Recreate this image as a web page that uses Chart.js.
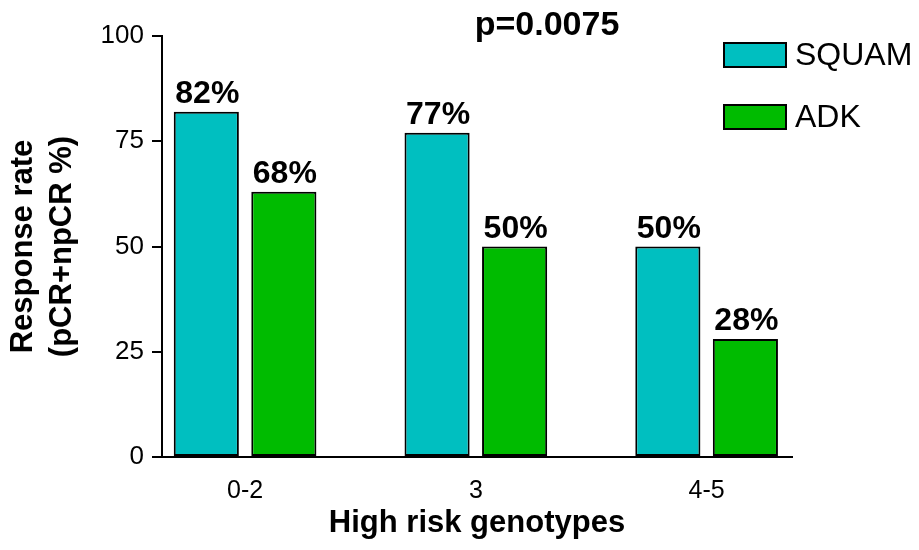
<!DOCTYPE html>
<html>
<head>
<meta charset="utf-8">
<title>Response rate by high risk genotypes</title>
<script src="https://cdn.jsdelivr.net/npm/chart.js@4.4.1/dist/chart.umd.min.js"></script>
<style>
    html, body { margin: 0; padding: 0; background: #fff; }
    #wrap { width: 919px; height: 550px; }
</style>
</head>
<body>
<div id="wrap"><canvas id="responseChart"></canvas></div>
<script>
// Values
const genotypeGroups = ['0-2', '3', '4-5'];
const squamValues = [82, 77, 50];
const adkValues = [63, 50, 28];
// printed labels (the first ADK label says 68% although the bar sits lower)
const squamLabels = ['82%', '77%', '50%'];
const adkLabels = ['68%', '50%', '28%'];
const yTicks = [0, 25, 50, 75, 100];
const pValueText = 'p=0.0075';

const FONT = "'Liberation Sans', Arial, Helvetica, sans-serif";
const SQUAM_COLOR = '#00bfc0';
const ADK_COLOR = '#00bb00';

function toPoints(values) {
    return values.map(function(v, i) { return { x: i, y: v }; });
}

// Percent labels above each bar
const barLabels = {
    id: 'barLabels',
    afterDatasetsDraw: function(chart) {
        const ctx = chart.ctx;
        ctx.save();
        ctx.font = 'bold 32px ' + FONT;
        ctx.fillStyle = '#000';
        ctx.textAlign = 'center';
        ctx.textBaseline = 'alphabetic';
        chart.data.datasets.forEach(function(ds, di) {
            const meta = chart.getDatasetMeta(di);
            meta.data.forEach(function(bar, i) {
                ctx.fillText(ds.valueLabels[i], bar.x + 1, bar.y - 9);
            });
        });
        ctx.restore();
    }
};

// p-value and the legend on the right
const annotations = {
    id: 'annotations',
    afterDraw: function(chart) {
        const ctx = chart.ctx;
        ctx.save();
        ctx.fillStyle = '#000';
        ctx.font = 'bold 34px ' + FONT;
        ctx.textAlign = 'center';
        ctx.textBaseline = 'middle';
        ctx.fillText(pValueText, 547, 26);

        ctx.font = '32px ' + FONT;
        ctx.textAlign = 'left';
        chart.data.datasets.forEach(function(ds, di) {
            const top = 43 + di * 62;
            ctx.fillStyle = ds.backgroundColor;
            ctx.fillRect(724, top, 62, 24);
            ctx.lineWidth = 2;
            ctx.strokeStyle = '#000';
            ctx.strokeRect(724, top, 62, 24);
            ctx.fillStyle = '#000';
            ctx.fillText(ds.label, 795, top + 13);
        });
        ctx.restore();
    }
};

const chart = new Chart(document.getElementById('responseChart'), {
    type: 'bar',
    data: {
        datasets: [{
            label: 'SQUAM',
            data: toPoints(squamValues),
            valueLabels: squamLabels,
            backgroundColor: SQUAM_COLOR,
            borderColor: '#000',
            borderWidth: 2,
            borderSkipped: false
        }, {
            label: 'ADK',
            data: toPoints(adkValues),
            valueLabels: adkLabels,
            backgroundColor: ADK_COLOR,
            borderColor: '#000',
            borderWidth: 2,
            borderSkipped: false
        }]
    },
    options: {
        responsive: true,
        maintainAspectRatio: false,
        animation: false,
        categoryPercentage: 0.672,
        barPercentage: 0.84,
        layout: {
            padding: { top: 36, right: 127, left: 0, bottom: 0 }
        },
        plugins: {
            legend: { display: false },
            tooltip: { enabled: false }
        },
        scales: {
            x: {
                type: 'linear',
                offset: false,
                min: -0.36,
                max: 2.37,
                afterBuildTicks: function(scale) {
                    scale.ticks = genotypeGroups.map(function(g, i) { return { value: i }; });
                },
                afterFit: function(scale) { scale.height = 93; },
                grid: { display: false },
                border: { display: true, color: '#000', width: 2 },
                ticks: {
                    color: '#000',
                    padding: 11,
                    font: { family: FONT, size: 25 },
                    callback: function(value) { return genotypeGroups[value]; }
                },
                title: {
                    display: true,
                    text: 'High risk genotypes',
                    color: '#000',
                    font: { family: FONT, size: 31, weight: 'bold', lineHeight: 1.2 },
                    padding: { top: 0, bottom: 8 }
                }
            },
            y: {
                min: 0,
                max: 100,
                afterBuildTicks: function(scale) {
                    scale.ticks = yTicks.map(function(v) { return { value: v }; });
                },
                afterFit: function(scale) { scale.width = 162; },
                grid: {
                    drawOnChartArea: false,
                    drawTicks: true,
                    tickLength: 10,
                    color: '#000',
                    lineWidth: 2
                },
                border: { display: true, color: '#000', width: 2 },
                ticks: {
                    color: '#000',
                    padding: 8,
                    font: { family: FONT, size: 26 }
                },
                title: {
                    display: true,
                    text: ['Response rate', '(pCR+npCR %)'],
                    color: '#000',
                    font: { family: FONT, size: 31, weight: 'bold', lineHeight: 1.25 },
                    padding: { top: 4, bottom: 0 }
                }
            }
        }
    },
    plugins: [barLabels, annotations]
});
</script>
</body>
</html>
